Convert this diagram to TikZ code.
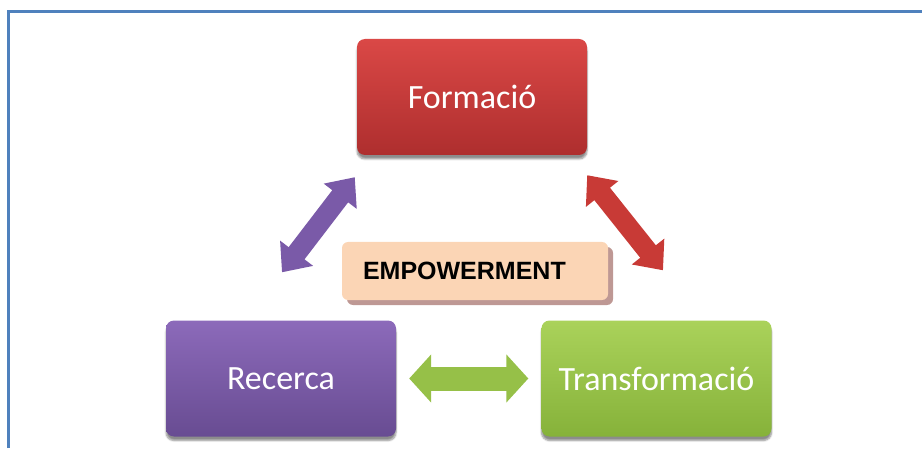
\documentclass[tikz,border=0pt]{standalone}
\usepackage{fontspec}
\usetikzlibrary{arrows.meta,shadows,shadows.blur,calc}
\newfontfamily\boxfont{Carlito}
\newfontfamily\empfont{Liberation Sans}
\definecolor{framebl}{RGB}{79,129,189}
\definecolor{redtop}{RGB}{218,72,70}
\definecolor{redbot}{RGB}{174,46,46}
\definecolor{purtop}{RGB}{140,106,186}
\definecolor{purbot}{RGB}{104,76,146}
\definecolor{grntop}{RGB}{170,210,90}
\definecolor{grnbot}{RGB}{134,178,58}
\definecolor{peach}{RGB}{251,213,181}
\definecolor{peachsh}{RGB}{190,152,148}
\definecolor{redarr}{RGB}{200,58,54}
\definecolor{purarr}{RGB}{122,90,168}
\definecolor{grnarr}{RGB}{150,192,72}
\begin{document}
\begin{tikzpicture}[x=1pt,y=1pt,
    bigbox/.style={rounded corners=8pt, minimum width=230pt, minimum height=116pt,
      text=white, font=\boxfont\fontsize{34}{40}\selectfont,
      blur shadow={shadow xshift=0pt, shadow yshift=-4pt, shadow blur steps=6, shadow opacity=45}},
    fatarrow/.style={line width=20pt,
      {Triangle[width=40pt,length=24pt]}-{Triangle[width=40pt,length=24pt]}}]
        \useasboundingbox (0,0) rectangle (922,448);
        % frame
        \draw[framebl, line width=3pt] (8,0) -- (8,436) -- (922,436);

        \node[bigbox, top color=redtop, bottom color=redbot] (form) at (472,351) {Formació};
        \node[bigbox, top color=purtop, bottom color=purbot] (rec) at (281,69.5) {Recerca};
        \node[bigbox, top color=grntop, bottom color=grnbot] (trans) at (656.5,69.5) {Transformació};

        \node[fill=peach, rounded corners=6pt, minimum height=58pt, text width=224pt,
          inner xsep=21pt, align=left, font=\empfont\bfseries\fontsize{25}{28}\selectfont,
          drop shadow={shadow xshift=5pt, shadow yshift=-5pt, fill=peachsh, opacity=1}]
          (emp) at (475,177) {EMPOWERMENT};

        \coordinate (p1) at ($(rec.north)+(1,48)$);
        \coordinate (p2) at ($(form.south west)+(-2,-22)$);
        \coordinate (r1) at ($(form.south east)+(0,-20)$);
        \coordinate (r2) at ($(trans.north)+(6.5,50)$);
        \coordinate (g1) at ($(rec.east)+(13,0)$);
        \coordinate (g2) at ($(trans.west)+(-13,0)$);

        \draw[fatarrow, purarr] (p1) -- (p2);
        \draw[fatarrow, redarr] (r1) -- (r2);
        \draw[fatarrow, grnarr, line width=24pt,
          {Triangle[width=47pt,length=22pt]}-{Triangle[width=47pt,length=22pt]}] (g1) -- (g2);
      \end{tikzpicture}
\end{document}
